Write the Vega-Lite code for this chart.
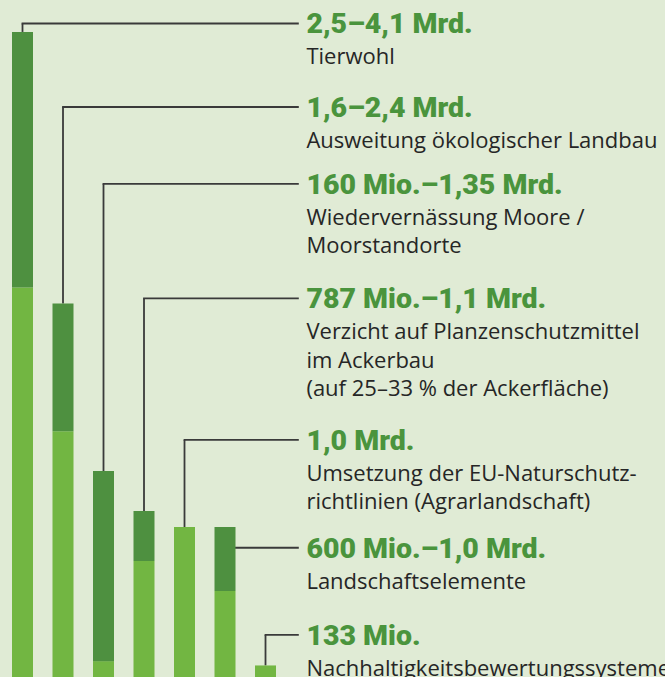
{
  "$schema": "https://vega.github.io/schema/vega-lite/v6.json",
  "width": 665,
  "height": 677,
  "autosize": {"type": "none"},
  "padding": 0,
  "background": "#e0ebd5",
  "config": {"view": {"stroke": null}},
  "data": {"values": [
    {"i": 0, "lo": 2.5, "hi": 4.1, "anchor": 4.153, "head": "2,5–4,1 Mrd.", "sub": "Tierwohl"},
    {"i": 1, "lo": 1.6, "hi": 2.4, "anchor": 3.630, "head": "1,6–2,4 Mrd.", "sub": "Ausweitung ökologischer Landbau"},
    {"i": 2, "lo": 0.16, "hi": 1.35, "anchor": 3.149, "head": "160 Mio.–1,35 Mrd.", "sub": "Wiedervernässung Moore /\nMoorstandorte"},
    {"i": 3, "lo": 0.787, "hi": 1.1, "anchor": 2.431, "head": "787 Mio.–1,1 Mrd.", "sub": "Verzicht auf Planzenschutzmittel\nim Ackerbau\n(auf 25–33 % der Ackerfläche)"},
    {"i": 4, "lo": 1.0, "hi": 1.0, "anchor": 1.545, "head": "1,0 Mrd.", "sub": "Umsetzung der EU-Naturschutz-\nrichtlinien (Agrarlandschaft)"},
    {"i": 5, "lo": 0.6, "hi": 1.0, "anchor": 0.870, "head": "600 Mio.–1,0 Mrd.", "sub": "Landschaftselemente"},
    {"i": 6, "lo": 0.133, "hi": 0.133, "anchor": 0.324, "head": "133 Mio.", "sub": "Nachhaltigkeitsbewertungssysteme"}
  ]},
  "encoding": {
    "x": {"field": "i", "type": "quantitative", "scale": {"domain": [-0.5556, 15.864], "nice": false, "zero": false, "padding": 0}, "axis": null}
  },
  "layer": [
    {
      "mark": {"type": "rule", "color": "#3a3a3a", "strokeWidth": 1.8, "strokeCap": "butt"},
      "encoding": {
        "y": {"field": "hi", "type": "quantitative", "scale": {"domain": [0.0607, 4.3], "nice": false, "zero": false, "padding": 0}, "axis": null},
        "y2": {"field": "anchor"}
      }
    },
    {
      "mark": {"type": "rule", "color": "#3a3a3a", "strokeWidth": 1.8, "strokeCap": "square"},
      "encoding": {
        "x2": {"datum": 6.8},
        "y": {"field": "anchor", "type": "quantitative"}
      }
    },
    {
      "mark": {"type": "bar", "width": 21, "color": "#72b642", "clip": true},
      "encoding": {
        "y": {"field": "lo", "type": "quantitative"},
        "y2": {"datum": 0}
      }
    },
    {
      "mark": {"type": "bar", "width": 21, "color": "#4e9040"},
      "encoding": {
        "y": {"field": "hi", "type": "quantitative"},
        "y2": {"field": "lo"}
      }
    },
    {
      "mark": {"type": "text", "align": "left", "baseline": "alphabetic", "dy": 10, "font": "Roboto", "fontWeight": 900, "fontSize": 28.5, "color": "#4a943d"},
      "encoding": {
        "x": {"datum": 7.01},
        "y": {"field": "anchor", "type": "quantitative"},
        "text": {"field": "head"}
      }
    },
    {
      "mark": {"type": "text", "align": "left", "baseline": "alphabetic", "dy": 41, "font": "Open Sans", "fontSize": 22, "lineBreak": "\n", "lineHeight": 28.5, "color": "#262626"},
      "encoding": {
        "x": {"datum": 7.01},
        "y": {"field": "anchor", "type": "quantitative"},
        "text": {"field": "sub"}
      }
    }
  ]
}
